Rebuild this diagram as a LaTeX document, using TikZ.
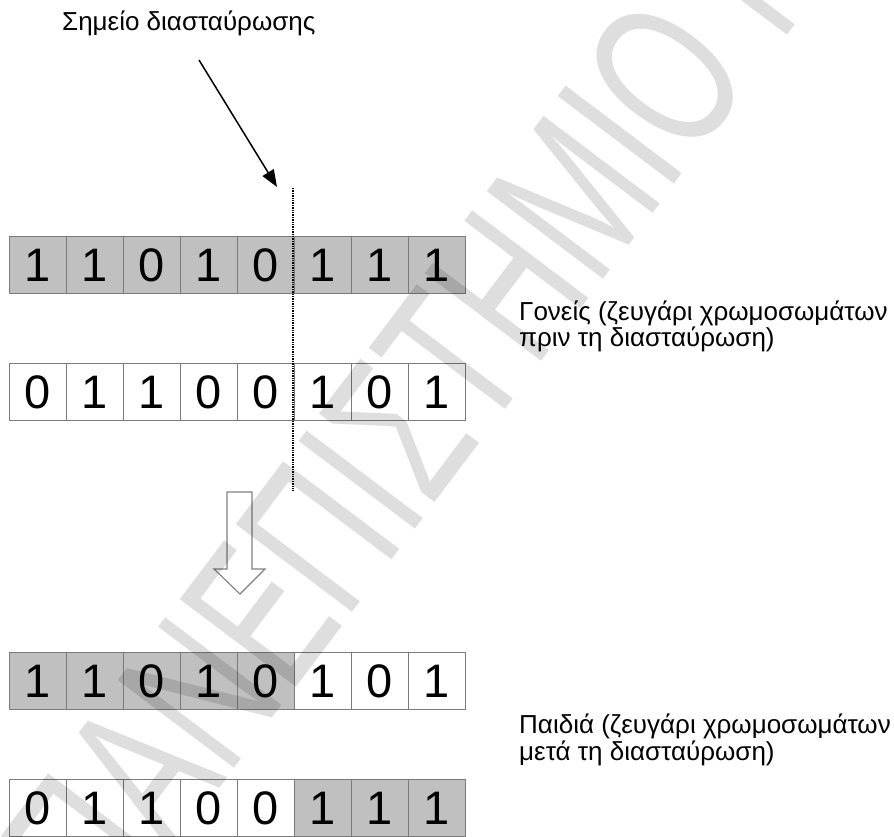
\documentclass[tikz,border=0pt]{standalone}
\usepackage{fontspec}
\setmainfont{Liberation Sans}
\usetikzlibrary{arrows.meta}
\definecolor{cellline}{HTML}{7A7A7A}
\definecolor{cellfill}{HTML}{C0C0C0}
\definecolor{arrline}{HTML}{808080}
\begin{document}
\begin{tikzpicture}[x=1pt,y=-1pt,
  cell/.style={draw=cellline, line width=1.1pt, minimum width=57pt, minimum height=57pt,
    inner sep=0pt, anchor=north west, font=\fontsize{47}{47}\selectfont},
  lbl/.style={anchor=base west, inner sep=0pt, font=\fontsize{26}{30}\selectfont},
  cutline/.style={line width=1.3pt, dash pattern=on 1.3pt off 1.1pt},
  pointer/.style={line width=1.5pt, -{Triangle[length=17pt,width=13pt]}},
  hollow/.style={draw=arrline, line width=1.1pt, fill=white},
  wmark/.style={anchor=base west, inner sep=0pt, rotate=53, yscale=1.5, text opacity=0.13,
    font=\fontsize{141}{141}\selectfont}]
\useasboundingbox (0,0) rectangle (894,836);
\fill[white] (0,0) rectangle (894,836);
% parents
\foreach \i/\v in {0/1,1/1,2/0,3/1,4/0,5/1,6/1,7/1}
  \node[cell, fill=cellfill] (pa\i) at ({9+57*\i},236) {\v};
\foreach \i/\v in {0/0,1/1,2/1,3/0,4/0,5/1,6/0,7/1}
  \node[cell, fill=white] (pb\i) at ({9+57*\i},363) {\v};
% children
\foreach \i/\v/\f in {0/1/cellfill,1/1/cellfill,2/0/cellfill,3/1/cellfill,4/0/cellfill,5/1/white,6/0/white,7/1/white}
  \node[cell, fill=\f] (ca\i) at ({9+57*\i},652) {\v};
\foreach \i/\v/\f in {0/0/white,1/1/white,2/1/white,3/0/white,4/0/white,5/1/cellfill,6/1/cellfill,7/1/cellfill}
  \node[cell, fill=\f] (cb\i) at ({9+57*\i},779) {\v};
% crossover point
\coordinate (cuttop) at (293,188);
\coordinate (cutbot) at (293,491);
\draw[cutline] (cuttop) -- (cutbot);
\node[lbl] (title) at (62,30) {Σημείο διασταύρωσης};
\coordinate (ptrstart) at (199,60);
\coordinate (ptrend) at (277,187);
\draw[pointer] (ptrstart) -- (ptrend);
% big hollow arrow
\draw[hollow] (227,492) -- (252,492) -- (252,569) -- (265,569) -- (240,594)
  -- (214,569) -- (227,569) -- cycle;
% labels
\node[lbl] (par1) at (519,320) {Γονείς (ζευγάρι χρωμοσωμάτων};
\node[lbl] (par2) at (519,346) {πριν τη διασταύρωση)};
\node[lbl] (chi1) at (519,733) {Παιδιά (ζευγάρι χρωμοσωμάτων};
\node[lbl] (chi2) at (519,760) {μετά τη διασταύρωση)};
% watermark
\begin{scope}
\clip (0,0) rectangle (894,836);
\node[wmark] (wm) at (110,934) {ΠΑΝΕΠΙΣΤΗΜΙΟ ΠΑΤΡΩΝ};
\end{scope}
\end{tikzpicture}
\end{document}
